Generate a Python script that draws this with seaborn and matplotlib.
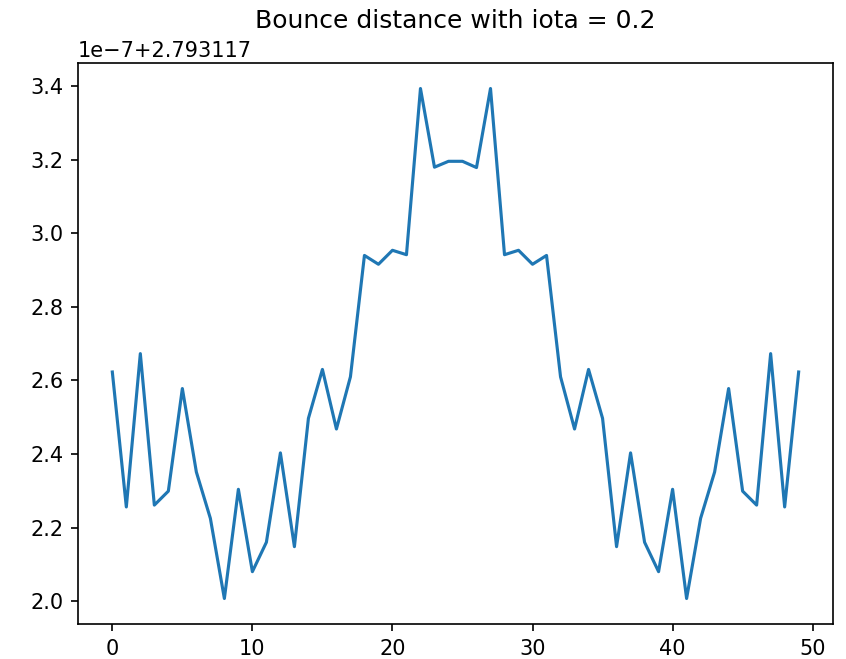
import numpy as np
import pandas as pd
import matplotlib
matplotlib.use("Agg")
import matplotlib.pyplot as plt
import seaborn as sns

# Bounce distance at each step (iota = 0.2)
steps = list(range(50))
distance = [
    2.7931172623, 2.7931172256, 2.7931172673, 2.7931172261, 2.7931172299,
    2.7931172578, 2.7931172351, 2.7931172225, 2.7931172007, 2.7931172304,
    2.7931172080, 2.7931172160, 2.7931172403, 2.7931172148, 2.7931172497,
    2.7931172630, 2.7931172468, 2.7931172610, 2.7931172940, 2.7931172916,
    2.7931172954, 2.7931172942, 2.7931173394, 2.7931173180, 2.7931173196,
    2.7931173196, 2.7931173179, 2.7931173394, 2.7931172942, 2.7931172954,
    2.7931172916, 2.7931172940, 2.7931172610, 2.7931172468, 2.7931172630,
    2.7931172497, 2.7931172148, 2.7931172403, 2.7931172160, 2.7931172080,
    2.7931172304, 2.7931172007, 2.7931172225, 2.7931172351, 2.7931172578,
    2.7931172299, 2.7931172261, 2.7931172673, 2.7931172256, 2.7931172623,
]
title = "Bounce distance with iota = 0.2"

df = pd.DataFrame({"step": steps, "distance": distance})

dpi = 150
fig = plt.figure(figsize=(846 / dpi, 659 / dpi), dpi=dpi)
ax = fig.add_axes([0.0922, 0.0531, 0.8924, 0.8513])

sns.lineplot(data=df, x="step", y="distance", ax=ax, color="#1f77b4",
             linewidth=1.5)
ax.set_xlabel("")
ax.set_ylabel("")
ax.set_xticks([0, 10, 20, 30, 40, 50])
ax.set_title(title, pad=17)

fig.savefig("out.png", dpi=dpi)
